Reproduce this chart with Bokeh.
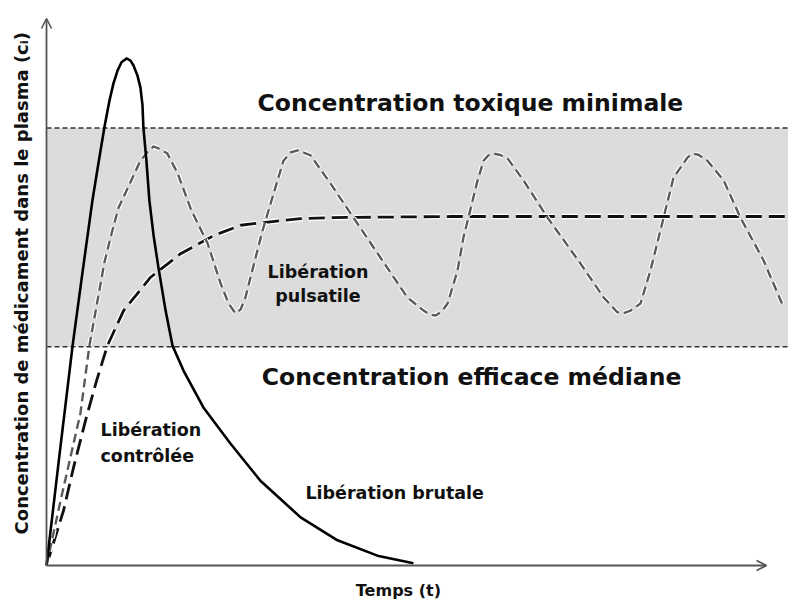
from math import pi
from bokeh.plotting import figure
from bokeh.models import Range1d, Label, Arrow, OpenHead
from bokeh.embed import file_html
from bokeh.resources import INLINE

# ---------------- data ----------------
# therapeutic window limits
toxic_level = 80.0      # concentration toxique minimale
efficacy_level = 40.0   # concentration efficace médiane

# Libération brutale (solid line)
brutal_t = [0.0, 0.43, 0.87, 1.2, 1.53, 1.73, 1.93, 2.1, 2.23, 2.37, 2.5, 2.67, 2.8, 2.9,
            3.03, 3.13, 3.2, 3.23, 3.33, 3.43, 3.57, 3.73, 3.97, 4.2, 4.57, 5.23, 6.13,
            7.13, 8.47, 9.7, 11.03, 12.23]
brutal_c = [0.0, 20.1, 40.2, 53.6, 66.7, 73.5, 80.1, 85.0, 88.1, 90.5, 92.0, 92.7, 92.3, 91.4,
            89.6, 87.4, 84.1, 80.1, 74.0, 66.7, 60.3, 54.5, 46.6, 40.2, 35.6, 28.9, 22.3,
            15.5, 8.8, 4.6, 1.8, 0.4]

# Libération contrôlée (long dashes)
controlled_t = [0.0, 0.57, 0.9, 1.3, 1.67, 2.03, 2.57, 3.47, 4.47, 5.57, 6.47, 7.23, 8.47,
                9.47, 13.47, 24.73]
controlled_c = [0.0, 10.1, 17.9, 26.5, 33.8, 40.2, 46.6, 52.7, 57.0, 60.3, 62.2, 62.7, 63.4,
                63.6, 63.8, 63.8]

# Libération pulsatile (grey dashes)
pulsatile_t = [0.0, 0.47, 1.13, 1.43, 1.7, 1.93, 2.17, 2.4, 2.7, 3.13, 3.37, 3.57, 3.8, 4.03,
               4.37, 4.83, 5.37, 5.8, 6.07, 6.3, 6.47, 6.63, 6.9, 7.2, 7.7, 7.9, 8.13, 8.37,
               8.57, 8.8, 9.47, 10.23, 11.13, 12.03, 12.57, 12.77, 12.97, 13.17, 13.37, 13.7,
               13.9, 14.37, 14.57, 14.73, 14.9, 15.1, 15.37, 15.9, 16.7, 17.8, 18.57, 19.03,
               19.23, 19.47, 19.8, 20.13, 20.57, 20.9, 21.37, 21.53, 21.73, 22.03, 22.57,
               23.13, 23.9, 24.57]
pulsatile_c = [0.0, 11.9, 27.8, 40.2, 48.4, 55.4, 60.7, 65.4, 68.9, 74.0, 75.6, 76.6, 76.1, 75.3,
               71.7, 64.9, 58.9, 51.6, 47.9, 46.1, 46.8, 49.0, 54.8, 61.2, 70.4, 74.0, 75.5, 75.9,
               75.5, 75.0, 69.8, 63.6, 56.3, 49.0, 46.6, 45.9, 45.7, 46.4, 47.9, 53.9,
               60.0, 70.4, 74.0, 75.0, 75.3, 75.1, 74.4, 70.4, 63.6, 55.2, 49.0, 46.3,
               46.1, 46.6, 47.9, 53.9, 63.6, 70.9, 74.6, 75.3, 75.1, 74.0, 70.4,
               63.6, 55.8, 47.2]

# ---------------- figure ----------------
p = figure(width=788, height=605, output_backend="svg", toolbar_location=None,
           title=None, x_axis_type=None, y_axis_type=None,
           x_range=Range1d(-1.5333, 24.7333), y_range=Range1d(-7.3126, 103.29),
           min_border=0, min_border_left=0, min_border_right=0,
           min_border_top=0, min_border_bottom=0)
p.outline_line_color = None
p.grid.visible = False
p.background_fill_color = "white"
p.border_fill_color = "white"

# therapeutic window band
p.quad(left=[0], right=[26], bottom=[efficacy_level], top=[toxic_level],
       fill_color="#dcdcdc", line_color=None)
for lvl in (toxic_level, efficacy_level):
    p.line([0, 26], [lvl, lvl], line_color="#333333", line_width=1.5, line_dash="5 3")

# controlled release: long dashes with white halo
p.line(controlled_t, controlled_c, line_color="white", line_width=5.5, line_dash="16 7",
       line_cap="butt", line_join="round")
p.line(controlled_t, controlled_c, line_color="#111111", line_width=2.8, line_dash="16 7",
       line_cap="butt", line_join="round")

# pulsatile release: grey dashes with white halo
p.line(pulsatile_t, pulsatile_c, line_color="white", line_width=4.8, line_dash="9 5",
       line_cap="butt", line_join="round")
p.line(pulsatile_t, pulsatile_c, line_color="#5a5a5a", line_width=2.4, line_dash="9 5",
       line_cap="butt", line_join="round")

# burst release: solid
p.line(brutal_t, brutal_c, line_color="#000000", line_width=2.6, line_join="round")

# axes with arrow heads
p.add_layout(Arrow(end=OpenHead(size=10, line_color="#555555", line_width=1.6),
                   x_start=0, y_start=0, x_end=0, y_end=100,
                   line_color="#555555", line_width=1.8))
p.add_layout(Arrow(end=OpenHead(size=10, line_color="#555555", line_width=1.6),
                   x_start=0, y_start=0, x_end=24.0, y_end=0,
                   line_color="#555555", line_width=1.8))

FONT = "DejaVu Sans"

def lab(x, y, text, size, align="left", angle=0.0, baseline="alphabetic"):
    p.add_layout(Label(x=x, y=y, text=text, text_font=FONT, text_font_style="bold",
                       text_font_size=size, text_align=align, text_baseline=baseline,
                       text_color="#111111", angle=angle))

lab(14.13, 84.5, "Concentration toxique minimale", "23.5px", "center")
lab(14.17, 34.4, "Concentration efficace médiane", "23.5px", "center")
lab(9.05, 53.7, "Libération", "17.5px", "center")
lab(9.05, 49.3, "pulsatile", "17.5px", "center")
lab(1.8, 24.7, "Libération", "17.5px", "left")
lab(1.8, 20.0, "contrôlée", "17.5px", "left")
lab(8.63, 13.2, "Libération brutale", "17.5px", "left")
lab(11.73, -4.6, "Temps (t)", "16px", "center")
lab(-0.83, 51.6, "Concentration de médicament dans le plasma (cᵢ)", "18px", "center",
    angle=pi / 2, baseline="middle")

open("out.html", "w").write(file_html(p, INLINE))
